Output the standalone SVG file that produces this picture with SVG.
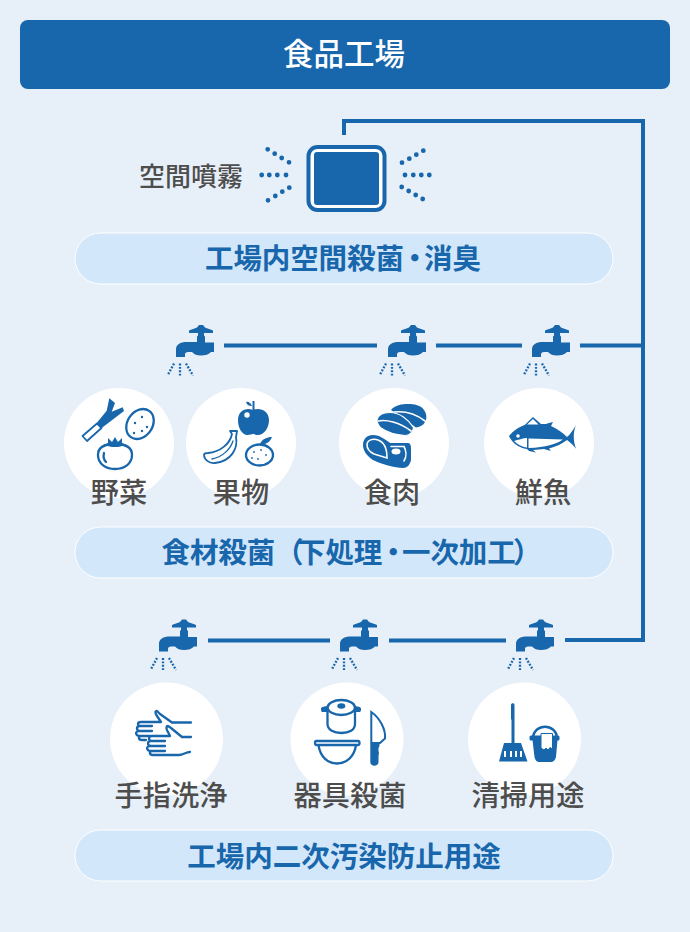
<svg xmlns="http://www.w3.org/2000/svg" width="690" height="932" viewBox="0 0 690 932">
<style>
.jp{font-family:"Noto Sans CJK JP","Noto Sans",sans-serif}
.lb{font-size:28.200px;font-weight:500;fill:#4d4d4d;text-anchor:middle}
.pt{font-size:28.500px;font-weight:700;fill:#1866ab}
.pill{fill:#d2e7fa;stroke:#fff;stroke-width:1}
.circ{fill:#fff}
.b{fill:#1866ab}
.ol{fill:#fff;stroke:#1866ab;stroke-width:2.300;stroke-linejoin:round}
.ln{fill:none;stroke:#1866ab;stroke-width:2.300;stroke-linecap:round;stroke-linejoin:round}
.wl{fill:none;stroke:#fff;stroke-width:1.600;stroke-linecap:round}
.conn{fill:none;stroke:#1866ab;stroke-width:4}
.dot{stroke:#1866ab;stroke-width:4.800;stroke-linecap:round;fill:none}
.drop{stroke:#1866ab;stroke-width:2.300;stroke-dasharray:1.900 1.500;fill:none}
</style>
<defs>
<g id="faucet">
<path class="b" d="M-2-20.500L2-20.500 4-18C6-17 10-16 12-15L12-12.500 3-12.500 3-10 4-9 4-3 13-3 13 6.500 10 6.500C8 9 4 10 0 10-4 10-7 9-9 6.500L-13 6.500C-15 6.500-16 7.500-16 9L-16 11.500-25 11.500-25 4C-25-1-21-3.500-14-3.500L-4-3.500-4-9-3-10-3-12.500-12-12.500-12-15C-10-16-6-17-4-18Z"/>
<path class="drop" d="M-27 18L-33.500 30M-21 18L-21 31M-15 18L-8 30"/>
</g>
</defs>
<rect width="690" height="932" fill="#e7f0f8"/>
<g id="header"><rect x="20" y="20" width="650" height="69" rx="8" class="b"/><text class="jp" x="344" y="65" font-size="30.500" font-weight="500" fill="#fff" text-anchor="middle">食品工場</text></g>
<g id="connectors">
<path class="conn" d="M344 135V121H643V640H565"/>
<path class="conn" d="M224 345.500H377M436 345.500H522M580 345.500H643M208 640.500H330M389 640.500H506"/>
</g>
<g id="sprayer">
<rect x="308.500" y="147" width="76" height="63" rx="9" fill="#fff" stroke="#1866ab" stroke-width="4"/>
<rect x="314" y="152" width="65" height="53" rx="3" class="b"/>
<path class="dot" d="M267.700 149.300h0M274.700 153.700h0M281.700 158h0M289 162.300h0M261.700 175h0M269.300 175h0M277.300 175h0M286 175h0M289.300 187.700h0M282.300 191.700h0M275.300 196h0M268 200.300h0M423.300 150.700h0M416.300 154.700h0M409.300 158.700h0M402 162.700h0M405 175h0M413.300 175h0M421.300 175h0M429.300 175h0M401.700 187h0M408.700 191h0M415.700 195h0M422.700 199h0"/>
<text class="jp" x="191" y="186" font-size="26" font-weight="500" fill="#4d4d4d" text-anchor="middle">空間噴霧</text>
</g>
<g id="pill1"><rect class="pill" x="75" y="233" width="538" height="51" rx="25.500"/><text class="jp pt" x="205 233.400 261.800 290.200 318.600 347 375.400 400.500 424 452.400" y="269">工場内空間殺菌・消臭</text></g>
<g id="faucets-1"><use href="#faucet" x="201" y="345.500"/><use href="#faucet" x="413" y="345.500"/><use href="#faucet" x="557" y="345.500"/></g>
<g id="yasai">
<circle class="circ" cx="119" cy="443" r="55"/>
<path class="b" d="M96.700 423L106.700 410.700 109.300 398.300 115 403 111.700 411.700 122.700 407.300 124 411 101.700 428Z"/>
<path class="ol" d="M97 423.500L101.500 428 87 441 82.500 436Z" style="stroke-width:1.800"/>
<ellipse class="ol" cx="140" cy="424" rx="12.500" ry="16" transform="rotate(35 140 424)"/>
<g class="b"><circle cx="135" cy="423" r="1.200"/><circle cx="142" cy="417" r="1.200"/><circle cx="147" cy="427" r="1.200"/><circle cx="134" cy="433" r="1.200"/><circle cx="142" cy="431" r="1.200"/></g>
<path class="ol" d="M98 455C98 447 105 444 115 444 125 444 132 447 132 455 132 464 124 469 115 469 106 469 98 464 98 455Z"/>
<path class="b" d="M103 445L108 443 108 438 112 442 115 437 118 442 122 438 122 443 127 445 118 447 112 447Z"/>
<path class="ln" d="M104 453C103 457 104 460 106 462"/>
<text class="jp lb" x="119" y="503">野菜</text>
</g>
<g id="kudamono">
<circle class="circ" cx="241" cy="443" r="55"/>
<path class="b" d="M253 410C259 407 269 410 269 420 269 428 264 435 258 435 255 435 254.500 434 253 434 251.500 434 250 435 247.500 435 242 435 238 428 238 420 238 410 247 407 253 410Z"/>
<rect x="252.500" y="401" width="2" height="9" class="b"/>
<path class="b" d="M246 402C248 401 251 403 252 406 249 406 247 405 246 402Z"/>
<circle cx="247" cy="415" r="2.700" fill="#fff"/>
<path class="ol" d="M204 455C204 453 206 453 208 453 220 452 230 444 232 434L230 431 237 431 236 437C238 448 232 461 215 463 209 464 204 459 204 455Z" style="stroke-width:1.800"/>
<path class="ln" d="M212 459C222 457 230 450 233 441" style="stroke-width:1.300"/>
<ellipse class="ol" cx="259.500" cy="455" rx="13.500" ry="10.500"/>
<path class="b" d="M260 444C262 439 267 437 272 437 270 442 266 445 260 444Z"/>
<g class="b"><circle cx="254" cy="452" r=".9"/><circle cx="261" cy="450" r=".9"/><circle cx="266" cy="455" r=".9"/><circle cx="258" cy="459" r=".9"/><circle cx="252" cy="458" r=".9"/></g>
<text class="jp lb" x="241" y="503">果物</text>
</g>
<g id="niku">
<circle class="circ" cx="394" cy="443" r="55"/>
<path class="b" d="M391 410C395 405 402 404 408 404 414 404 421 405 424 410 427 414 427 419 425 422 423 426 419 427 416 427.500L400 416Z"/>
<path class="wl" d="M394 412C404 411 416 414 425 421"/>
<path class="b" stroke="#fff" stroke-width="1.200" d="M377 420C378 415 383 412.500 390 412.500 400 412.500 409 420 413.500 427.500 413.500 431 410 435.500 405 435.500 398 435 388 433 381 428 378 425 377 423 377 420Z"/>
<path class="wl" d="M378.500 421C386 419.500 399 422 411 431"/>
<path class="b" d="M363 445C363 439 367 435 373 435 380 435 386 440 390 443L408 443C410 443 411 445 411 448L411 460C410 465 407 468 403 468 395 468 381 464 373 460 367 456 363 451 363 445Z"/>
<path class="wl" d="M367 445C367 440 373 438 378 440 384 442 387 448 387 458L374 454C370 452 367 449 367 445Z"/>
<path class="wl" d="M391 446.500H404C406 450 407 456 404 461"/>
<ellipse cx="396" cy="451.500" rx="4.500" ry="3" fill="#fff"/>
<text class="jp lb" x="392" y="503">食肉</text>
</g>
<g id="sakana">
<circle class="circ" cx="539" cy="443" r="55"/>
<path class="b" d="M509 436C514 430 519 427 525 424.700L533 417 541 424C545 424 547 424 549 423L553 422 551 426C558 429 563 433 567 437 570 435 573 430 576 425.300 573 432 573 441 576 448.700 573 445 570 442 567 440 562 444 555 447 549 448.500L551 451 544 449 533 450 536 452.500 529 451 527 449C519 448 512 443 509 436Z"/>
<path d="M527 424.500L533 419 538.500 424.500Z" fill="#fff"/>
<path d="M514 441C518 440 523 438 527 438V447.500C522 447 517 444 514 441Z" fill="#fff"/>
<path d="M528.500 438.500C540 439 552 439 563 439.500 556 444 546 447.500 528.500 448Z" fill="#fff"/>
<circle cx="518" cy="436" r="1.800" fill="#fff"/>
<text class="jp lb" x="543" y="503">鮮魚</text>
</g>
<g id="pill2"><rect class="pill" x="75" y="527" width="538" height="51" rx="25.500"/><text class="jp pt" x="161.500 189.900 218.300 246.700 275 297 325.400 353.800 379 402 430.400 458.800 487.200 513" y="563">食材殺菌（下処理・一次加工）</text></g>
<g id="faucets-2"><use href="#faucet" x="184" y="640"/><use href="#faucet" x="365" y="640"/><use href="#faucet" x="541" y="640"/></g>
<g id="te">
<circle class="circ" cx="166.500" cy="739" r="56.500"/>
<path class="ln" d="M191 722.500H172L160 714 157 711C155 711 155 713 157 716L161 722H141C137 722 137 726 141 726H152M140 726C136 726 136 731 140 731H152M139 731C135 731 135 736 140 736H150M141 736C138 736 138 740 142 740H146"/>
<path class="ln" d="M191 737H182L171 728 168 726C166 726 166 729 168 732L170 736H152C148 736 148 741 152 741H165M151 741C147 741 147 746 151 746H165M150 746C146 746 146 751 151 751H165M152 751C149 751 149 755 153 755H179C183 755 186 752 190 752"/>
<text class="jp lb" x="171" y="806">手指洗浄</text>
</g>
<g id="kigu">
<circle class="circ" cx="347" cy="739" r="56.500"/>
<path class="ln" d="M327.500 710V724C327.500 730 334 733 341.500 733 349 733 355 730 355 724V710"/>
<ellipse class="ol" cx="341.300" cy="707.500" rx="13.700" ry="7.500"/>
<ellipse class="b" cx="341.300" cy="706" rx="4" ry="2.800"/>
<path class="b" d="M321 708.500C321 707 325 706 328 706V712H322C321 711 321 710 321 708.500ZM361 708.500C361 707 357 706 354 706V712H360C361 711 361 710 361 708.500Z"/>
<path class="ln" d="M316.500 741H358C360 741 360 745 358 745H316.500C314.500 745 314.500 741 316.500 741ZM318.500 745C320 756 327 763.500 337 763.500 347 763.500 354.500 756 356 745"/>
<path d="M371.300 712C380 718 386 730 385 738.500L380 743H371.300Z" fill="#fff" stroke="#1866ab" stroke-width="2"/>
<path class="b" d="M370.300 743.500H379.500V746L378.500 748V751L379 753 378.500 756V762C378.500 767 370.300 767 370.300 762Z"/>
<text class="jp lb" x="350" y="806">器具殺菌</text>
</g>
<g id="seisou">
<circle class="circ" cx="524.500" cy="739" r="56.500"/>
<path class="b" d="M511 705C511 702.500 514.500 702.500 514.500 705V719L514.500 720V743H511.500V720L511 719Z"/>
<path class="b" d="M504 743H521L527.500 761.500H499Z"/>
<path d="M505 751V757M511 751V757M516 751V757M521 751V757" stroke="#fff" stroke-width="2"/>
<path class="ln" d="M533 738C534 723 556 723 557 738" style="stroke-width:2.500"/>
<rect x="529.500" y="735.500" width="30" height="5" rx="1.500" class="b"/>
<path class="b" d="M532.500 740H557.500L556 757C555.500 760 553 762 551 762H539C537 762 535 760 534.500 757Z"/>
<path d="M541 733.500H552.500V749L550 747.500 548 750 546 748 544 750 541 748Z" fill="#fff" stroke="#1866ab" stroke-width="1"/>
<text class="jp lb" x="528" y="806">清掃用途</text>
</g>
<g id="pill3"><rect class="pill" x="75" y="830" width="538" height="51" rx="25.500"/><text class="jp pt" x="344" y="867" text-anchor="middle">工場内二次汚染防止用途</text></g>
</svg>
